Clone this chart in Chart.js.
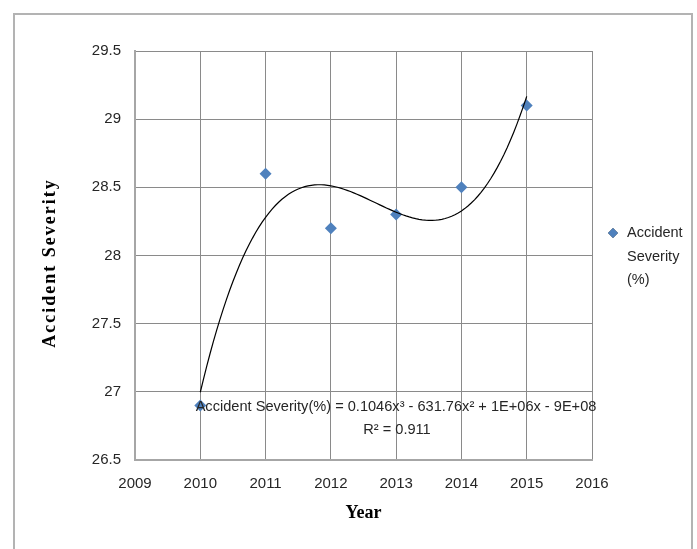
<!DOCTYPE html>
<html>
<head>
<meta charset="utf-8">
<title>Accident Severity</title>
<script src="https://cdn.jsdelivr.net/npm/chart.js@4.4.0/dist/chart.umd.min.js"></script>
<style>
    html, body { margin: 0; padding: 0; background: #fff; }
    canvas { display: block; }
</style>
</head>
<body>
<canvas id="chart" width="697" height="549"></canvas>
<script>
// Yearly accident severity (%)
var years = [2010, 2011, 2012, 2013, 2014, 2015];
var severity = [26.9, 28.6, 28.2, 28.3, 28.5, 29.1];

// Axis ticks
var xTicks = [2009, 2010, 2011, 2012, 2013, 2014, 2015, 2016];
var yTicks = [26.5, 27, 27.5, 28, 28.5, 29, 29.5];

var legendLines = ['Accident', 'Severity', '(%)'];
var equationText = 'Accident Severity(%) = 0.1046x\u00b3 - 631.76x\u00b2 + 1E+06x - 9E+08';
var rSquaredText = 'R\u00b2 = 0.911';

var labelFont = "'Liberation Sans', Arial, sans-serif";
var titleFont = "'Liberation Serif', 'Times New Roman', serif";
var markerColor = '#4f81bd';


// Least squares polynomial fit, x is centred to keep the normal equations well conditioned
function polyFit(xs, ys, degree) {
    var x0 = xs.reduce((a, b) => a + b) / xs.length;
    var n = degree + 1;
    var A = [], b = [];
    for (var i = 0; i < n; i++) {
        A.push(new Array(n).fill(0));
        b.push(0);
    }
    xs.forEach((x, k) => {
        var t = x - x0;
        for (var i = 0; i < n; i++) {
            for (var j = 0; j < n; j++) A[i][j] += Math.pow(t, i + j);
            b[i] += Math.pow(t, i) * ys[k];
        }
    });
    for (var c = 0; c < n; c++) {
        var p = c;
        for (var r = c + 1; r < n; r++) if (Math.abs(A[r][c]) > Math.abs(A[p][c])) p = r;
        [A[c], A[p]] = [A[p], A[c]];
        [b[c], b[p]] = [b[p], b[c]];
        for (var r = c + 1; r < n; r++) {
            var f = A[r][c] / A[c][c];
            for (var j = c; j < n; j++) A[r][j] -= f * A[c][j];
            b[r] -= f * b[c];
        }
    }
    var coef = new Array(n).fill(0);
    for (var i = n - 1; i >= 0; i--) {
        var s = b[i];
        for (var j = i + 1; j < n; j++) s -= A[i][j] * coef[j];
        coef[i] = s / A[i][i];
    }
    return x => coef.reduce((sum, c, i) => sum + c * Math.pow(x - x0, i), 0);
}

// Cubic trendline sampled between the first and last year
var trend = polyFit(years, severity, 3);
var trendPoints = [];
for (var k = 0; k <= 100; k++) {
    var x = years[0] + (years[years.length - 1] - years[0]) * k / 100;
    trendPoints.push({ x: x, y: trend(x) });
}

// White page with the grey frame round the chart
var framePlugin = {
    id: 'frame',
    beforeDraw(chart) {
        var ctx = chart.ctx;
        ctx.save();
        ctx.fillStyle = '#fff';
        ctx.fillRect(0, 0, chart.width, chart.height);
        ctx.strokeStyle = '#b3b3b3';
        ctx.lineWidth = 2;
        ctx.beginPath();
        ctx.moveTo(14, chart.height + 5);
        ctx.lineTo(14, 14);
        ctx.lineTo(692, 14);
        ctx.lineTo(692, chart.height + 5);
        ctx.stroke();
        ctx.restore();
    }
};

// Y axis title, trendline equation and the wrapped legend on the right
var textPlugin = {
    id: 'texts',
    afterDraw(chart) {
        var ctx = chart.ctx;
        var area = chart.chartArea;
        ctx.save();

        ctx.fillStyle = '#000';
        ctx.font = 'bold 18px ' + titleFont;
        ctx.letterSpacing = '2px';
        ctx.textAlign = 'center';
        ctx.textBaseline = 'middle';
        ctx.translate(50, 263);
        ctx.rotate(-Math.PI / 2);
        ctx.fillText('Accident Severity', 0, 0);
        ctx.setTransform(1, 0, 0, 1, 0, 0);
        ctx.letterSpacing = '0px';

        ctx.fillStyle = '#262626';
        ctx.font = '14.6px ' + labelFont;
        ctx.fillText(equationText, 396, 407);
        ctx.fillText(rSquaredText, 397, 430);

        Chart.helpers.drawPoint(ctx, { pointStyle: 'rectRot', radius: 5, rotation: 0, borderWidth: 0 }, area.right + 21, 233);
        ctx.fillStyle = markerColor;
        ctx.fill();
        ctx.fillStyle = '#262626';
        ctx.textAlign = 'left';
        ctx.font = '14.5px ' + labelFont;
        legendLines.forEach((line, i) => ctx.fillText(line, area.right + 35, 233 + i * 23.5));
        ctx.restore();
    }
};

var tickFont = { family: labelFont, size: 15 };

new Chart(document.getElementById('chart'), {
    type: 'scatter',
    data: {
        datasets: [{
            label: 'Trendline',
            type: 'line',
            data: trendPoints,
            borderColor: '#000',
            borderWidth: 1.2,
            pointRadius: 0,
            tension: 0,
            fill: false,
            order: 0
        }, {
            label: 'Accident Severity (%)',
            data: years.map((y, i) => ({ x: y, y: severity[i] })),
            pointStyle: 'rectRot',
            pointRadius: 6,
            pointBackgroundColor: markerColor,
            pointBorderWidth: 0,
            order: 1
        }]
    },
    options: {
        responsive: false,
        animation: false,
        devicePixelRatio: 1,
        layout: { padding: { left: 0, top: 51, right: 105, bottom: 0 } },
        plugins: {
            legend: { display: false },
            tooltip: { enabled: false }
        },
        scales: {
            x: {
                type: 'linear',
                min: 2009,
                max: 2016,
                afterBuildTicks: (scale) => { scale.ticks = xTicks.map(v => ({ value: v })); },
                afterFit: (scale) => { scale.height = 89; },
                ticks: { callback: (v) => String(v), color: '#262626', font: tickFont, padding: 15, maxRotation: 0 },
                grid: { color: '#8a8a8a', drawTicks: false },
                border: { color: '#a6a6a6', width: 2 },
                title: {
                    display: true,
                    text: 'Year',
                    color: '#000',
                    font: { family: titleFont, size: 18, weight: 'bold' },
                    padding: { top: 0, bottom: 25 }
                }
            },
            y: {
                type: 'linear',
                min: 26.5,
                max: 29.5,
                afterBuildTicks: (scale) => { scale.ticks = yTicks.map(v => ({ value: v })); },
                afterFit: (scale) => { scale.width = 135; },
                ticks: { callback: (v) => String(v), color: '#262626', font: tickFont, padding: 14 },
                grid: { color: '#8a8a8a', drawTicks: false },
                border: { color: '#a6a6a6', width: 2 }
            }
        }
    },
    plugins: [framePlugin, textPlugin]
});
</script>
</body>
</html>
